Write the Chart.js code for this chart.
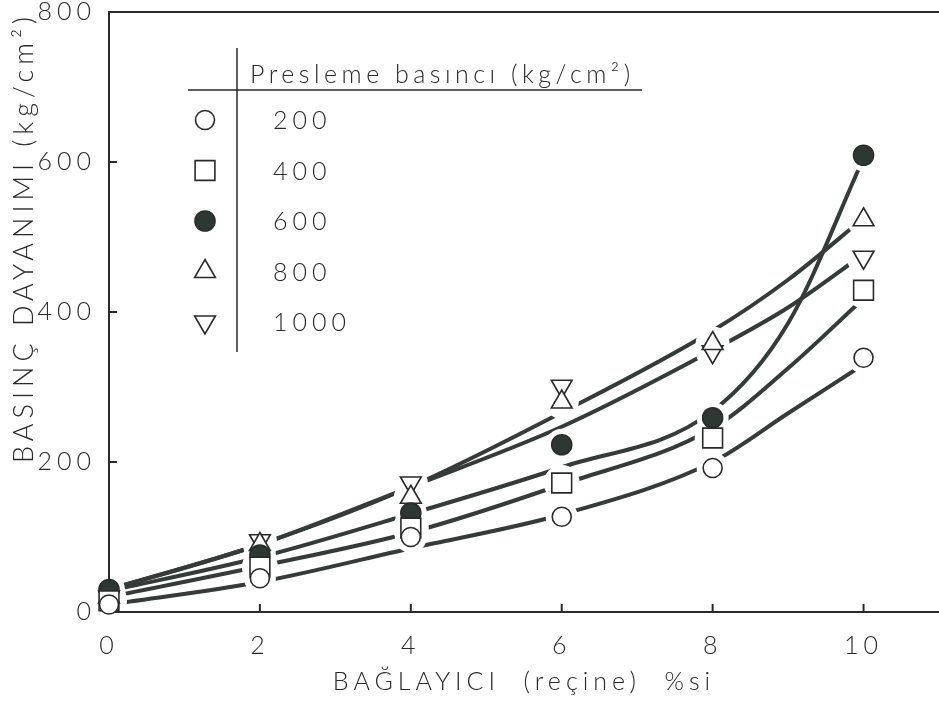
<!DOCTYPE html>
<html>
<head>
<meta charset="utf-8">
<script src="https://cdn.jsdelivr.net/npm/chart.js@4.4.1/dist/chart.umd.min.js"></script>
<style>
  html, body { margin: 0; padding: 0; background: #fff; }
  #wrap { width: 939px; height: 702px; }
</style>
</head>
<body>
<div id="wrap"><canvas id="chart" width="939" height="702"></canvas></div>
<script>
// binder (resin) content, %
const binderPct = [0, 2, 4, 6, 8, 10];
// pressing pressure groups (kg/cm2)
const pressures = ['200', '400', '600', '800', '1000'];

// measured compressive strength (kg/cm2), one array per pressing pressure
const p200  = [10, 45, 100, 127, 192, 339];
const p400  = [15, 60, 112, 172, 232, 429];
const p600  = [30, 76, 132, 223, 259, 609];
const p800  = [20, 90, 153, 280, 358, 523];
const p1000 = [20, 95, 172, 301, 347, 473];

// hand-drawn fitted curves
const curvePct = [0, 2, 4, 6, 8, 9, 10];
const fit200  = [10, 40, 85, 130, 200, 265, 330];
const fit400  = [20, 61, 106, 170, 245, 325, 418];
const fit600  = [28, 73, 131, 193, 268, 385, 605];
const fit800  = [30, 90, 167, 266, 375, 443, 525];
const fit1000 = [30, 90, 167, 247, 349, 406, 477];

const xTicks = [0, 2, 4, 6, 8, 10];
const yTicks = [0, 200, 400, 600, 800];

const ink = '#2a2a2a';
const lineInk = '#353b38';
const dotInk = '#2e3833';
const fontFamily = "Lato, 'DejaVu Sans', sans-serif";
const SPACING = '5px';

function toPoints(xs, ys) {
  return xs.map((x, i) => ({ x: x, y: ys[i] }));
}

// marker look per pressure group
const series = [
  { marks: p200,  fit: fit200,  style: 'circle',   radius: 9.5, fill: '#fff', rot: 0,   gap: 16 },
  { marks: p400,  fit: fit400,  style: 'rect',     radius: 14,  fill: '#fff', rot: 0,   gap: 18 },
  { marks: p600,  fit: fit600,  style: 'circle',   radius: 10,  fill: dotInk, rot: 0,   gap: 16 },
  { marks: p800,  fit: fit800,  style: 'triangle', radius: 12,  fill: '#fff', rot: 0,   gap: 17 },
  { marks: p1000, fit: fit1000, style: 'triangle', radius: 12,  fill: '#fff', rot: 180, gap: 17 }
];

const markerSets = series.map((s, i) => ({
  type: 'line',
  label: pressures[i],
  data: toPoints(binderPct, s.marks),
  showLine: false,
  pointStyle: s.style,
  pointRadius: s.radius,
  pointRotation: s.rot,
  pointBackgroundColor: s.fill,
  pointBorderColor: ink,
  pointBorderWidth: 1.6,
  clip: false,
  isMarker: true,
  gap: s.gap
}));

const curveSets = series.map((s, i) => ({
  type: 'line',
  label: 'fit ' + pressures[i],
  data: toPoints(curvePct, s.fit),
  borderColor: lineInk,
  borderWidth: 4,
  borderCapStyle: 'round',
  cubicInterpolationMode: 'monotone',
  pointRadius: 0,
  fill: false
}));

// letter spacing like the stencil lettering of the original
const spacingPlugin = {
  id: 'spacing',
  beforeUpdate(chart) { chart.ctx.letterSpacing = SPACING; },
  beforeDraw(chart) { chart.ctx.letterSpacing = SPACING; }
};

// frame with inward ticks (left, top and bottom only)
function drawFrame(chart) {
  const ctx = chart.ctx;
  const a = chart.chartArea;
  const xs = chart.scales.x;
  const ys = chart.scales.y;
  ctx.save();
  ctx.strokeStyle = ink;
  ctx.lineWidth = 2;
  ctx.beginPath();
  ctx.moveTo(a.right, a.top);
  ctx.lineTo(a.left, a.top);
  ctx.lineTo(a.left, a.bottom);
  ctx.lineTo(a.right, a.bottom);
  ys.ticks.forEach(t => {
    if (t.value > 0 && t.value < 800) {
      const py = ys.getPixelForValue(t.value);
      ctx.moveTo(a.left, py);
      ctx.lineTo(a.left + 8, py);
    }
  });
  xs.ticks.forEach(t => {
    if (t.value > 0) {
      const px = xs.getPixelForValue(t.value);
      ctx.moveTo(px, a.bottom);
      ctx.lineTo(px, a.bottom - 8);
    }
  });
  ctx.stroke();
  ctx.restore();
}

// the curves stop short of each measured point: clear a disc round every
// marker, redraw the frame, then draw the markers again on top
const gapPlugin = {
  id: 'gaps',
  afterDatasetsDraw(chart) {
    const ctx = chart.ctx;
    const markerMetas = [];
    chart.data.datasets.forEach((d, i) => {
      if (d.isMarker) markerMetas.push({ meta: chart.getDatasetMeta(i), gap: d.gap });
    });
    ctx.save();
    ctx.fillStyle = '#ffffff';
    markerMetas.forEach(m => {
      m.meta.data.forEach(el => {
        ctx.beginPath();
        ctx.arc(el.x, el.y, m.gap, 0, Math.PI * 2);
        ctx.fill();
      });
    });
    ctx.restore();
    drawFrame(chart);
    for (let k = markerMetas.length - 1; k >= 0; k--) {
      markerMetas[k].meta.data.forEach(el => el.draw(ctx, chart.chartArea));
    }
  }
};

// table-style legend drawn inside the plot
const legendPlugin = {
  id: 'tableLegend',
  afterDraw(chart) {
    const ctx = chart.ctx;
    const markers = chart.data.datasets.filter(d => d.isMarker);
    ctx.save();
    ctx.strokeStyle = ink;
    ctx.lineWidth = 1.5;
    ctx.beginPath();
    ctx.moveTo(237, 48);
    ctx.lineTo(237, 352);
    ctx.moveTo(188, 90);
    ctx.lineTo(642, 90);
    ctx.stroke();

    ctx.fillStyle = ink;
    ctx.font = '300 25px ' + fontFamily;
    ctx.textBaseline = 'alphabetic';
    ctx.textAlign = 'left';
    ctx.letterSpacing = '4.5px';
    ctx.fillText('Presleme basıncı (kg/cm²)', 250, 83);
    ctx.letterSpacing = SPACING;
    ctx.textBaseline = 'middle';

    markers.forEach((d, i) => {
      const y = 120 + i * 50.5;
      ctx.fillStyle = d.pointBackgroundColor;
      ctx.strokeStyle = ink;
      ctx.lineWidth = 1.6;
      const opts = { pointStyle: d.pointStyle, radius: d.pointRadius, rotation: d.pointRotation, borderWidth: 1.6 };
      if (Chart.helpers && Chart.helpers.drawPoint) {
        Chart.helpers.drawPoint(ctx, opts, 205, y);
      } else {
        ctx.beginPath();
        ctx.arc(205, y, 9, 0, Math.PI * 2);
        ctx.fill();
        ctx.stroke();
      }
      ctx.fillStyle = ink;
      ctx.fillText(d.label, 273, y + 1);
    });
    ctx.restore();
  }
};

new Chart(document.getElementById('chart'), {
  data: { datasets: markerSets.concat(curveSets) },
  options: {
    responsive: false,
    animation: false,
    events: [],
    layout: { autoPadding: false, padding: { top: 12, right: 0, left: 0, bottom: 0 } },
    plugins: {
      legend: { display: false },
      tooltip: { enabled: false }
    },
    scales: {
      x: {
        type: 'linear',
        min: 0,
        max: 11,
        grid: { display: false, drawTicks: false },
        border: { display: false },
        afterBuildTicks(scale) { scale.ticks = xTicks.map(v => ({ value: v })); },
        afterFit(scale) { scale.height = 90; },
        ticks: {
          color: ink,
          padding: 19,
          font: { family: fontFamily, size: 25, weight: '300' }
        },
        title: {
          display: true,
          text: 'BAĞLAYICI  (reçine)  %si',
          color: ink,
          padding: { top: 0, bottom: 5 },
          font: { family: fontFamily, size: 25, weight: '300' }
        }
      },
      y: {
        type: 'linear',
        min: 0,
        max: 800,
        grid: { display: false, drawTicks: false },
        border: { display: false },
        afterBuildTicks(scale) { scale.ticks = yTicks.map(v => ({ value: v })); },
        afterFit(scale) {
          scale.width = 109;
          scale.paddingTop = 0;
          scale.paddingBottom = 0;
        },
        ticks: {
          color: ink,
          padding: 13,
          font: { family: fontFamily, size: 25, weight: '300' }
        },
        title: {
          display: true,
          text: 'BASINÇ DAYANIMI (kg/cm²)',
          align: 'end',
          color: ink,
          padding: { top: 8, bottom: 0 },
          font: { family: fontFamily, size: 27, weight: '300' }
        }
      }
    }
  },
  plugins: [spacingPlugin, gapPlugin, legendPlugin]
});
</script>
</body>
</html>
